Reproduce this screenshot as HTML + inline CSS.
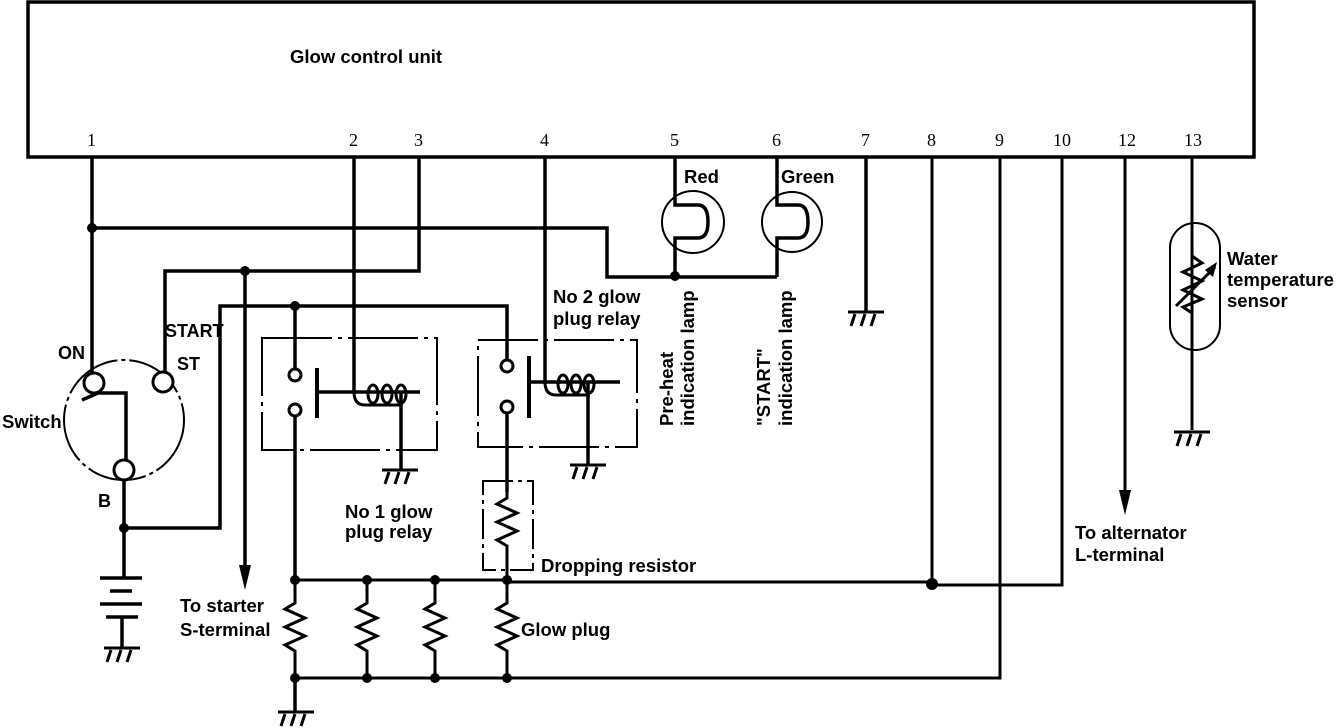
<!DOCTYPE html>
<html><head><meta charset="utf-8"><style>
html,body{margin:0;padding:0;background:#fff}
svg{display:block}
text{font-family:"Liberation Sans",sans-serif;font-weight:bold;font-size:18.5px;fill:#000}
.n{font-family:"Liberation Sans Narrow","Liberation Serif",serif;font-weight:normal;font-size:18px}
.b{font-family:"Liberation Sans Narrow","Liberation Sans",sans-serif;font-weight:bold;font-size:18px}
</style></head><body>
<svg width="1344" height="728" viewBox="0 0 1344 728" xmlns="http://www.w3.org/2000/svg">
<g fill="none" stroke="#000" stroke-width="3.5">
<rect x="28" y="2" width="1226" height="155"/>
<path d="M92 157V378"/>
<path d="M92 228H607V277H777"/>
<path d="M675 157V205H698Q708 205 708 222Q708 238 698 238H675V277"/>
<path d="M777 157V205H798Q808 205 808 222Q808 238 798 238H777V277"/>
<path d="M354 157V392"/>
<path d="M419 157V271H165V373"/>
<path d="M245 271V570"/>
<path d="M545 157V382"/>
<path d="M124 528H220V306H507V360"/>
<path d="M295 306V369"/>
<path d="M295 416V580"/>
<path d="M507 413V492"/>
<path d="M124 480V578"/>
<path d="M126 460V393H98L82 400"/>
<path d="M122 617V648"/>
<path d="M317 368V418" stroke-width="4"/>
<path d="M317 392H420"/>
<path d="M401 392V470"/>
<path d="M529 356V418" stroke-width="4"/>
<path d="M529 382H620"/>
<path d="M588 382V465"/>
<path d="M295 580H507M507 582H932" stroke-width="3"/>
<path d="M932 157V585H1062V157" stroke-width="3"/>
<path d="M295 678H1000V157" stroke-width="3"/>
<path d="M295 678V712"/>
<path d="M866 157V312"/>
<path d="M1125 157V495" stroke-width="3"/>
<path d="M1192 157V430" stroke-width="3"/>
</g>
<g fill="none" stroke="#000" stroke-width="2">
<circle cx="124" cy="420" r="60" stroke-dasharray="60 4 4 4"/>
<rect x="262" y="338" width="175" height="112" stroke-dasharray="70 6 4 6"/>
<rect x="478" y="340" width="159" height="107" stroke-dasharray="60 6 4 6"/>
<rect x="483" y="481" width="50" height="89" stroke-dasharray="30 5 4 5"/>
<circle cx="693" cy="222" r="31"/>
<circle cx="792" cy="222" r="30"/>
<rect x="1170" y="223" width="50" height="127" rx="25"/>
</g>
<g fill="#fff" stroke="#000" stroke-width="3">
<circle cx="94" cy="383" r="10"/><circle cx="163" cy="382" r="10"/><circle cx="124" cy="470" r="10"/>
<circle cx="295" cy="375" r="6"/><circle cx="295" cy="410" r="6"/>
<circle cx="507" cy="366" r="6"/><circle cx="507" cy="407" r="6"/>
</g>
<g fill="none" stroke="#000" stroke-width="3">
<path d="M354 392Q354 405 365 405H400"/>
<ellipse cx="373" cy="394" rx="5" ry="9"/><ellipse cx="387" cy="394" rx="5" ry="9"/><ellipse cx="401" cy="394" rx="5" ry="9"/>
<path d="M545 382Q545 395 556 395H590"/>
<ellipse cx="563" cy="384" rx="5" ry="9"/><ellipse cx="576" cy="384" rx="5" ry="9"/><ellipse cx="589" cy="384" rx="5" ry="9"/>
<path d="M507 492V498L497 504L517 513L497 522L517 531L497 540L507 546V580"/>
<path d="M295 580V603L285 609L305 618L285 627L305 636L285 645L295 651V678"/>
<path d="M367 580V603L357 609L377 618L357 627L377 636L357 645L367 651V678"/>
<path d="M435 580V603L425 609L445 618L425 627L445 636L425 645L435 651V678"/>
<path d="M507 580V603L497 609L517 618L497 627L517 636L497 645L507 651V678"/>
<path d="M1192 256L1202 263L1183 272L1202 281L1183 290L1202 299L1183 307L1192 313"/>
<path d="M1176 306L1215 267"/>
<path d="M100 578H142M110 591H132M100 604H142M106 617H138" stroke-width="3.5"/>
<path d="M104 648H140M111 650L107 662M121 650L117 662M131 650L127 662"/>
<path d="M278 712H314M285 714L281 726M295 714L291 726M305 714L301 726"/>
<path d="M382 470H418M389 472L385 484M399 472L395 484M409 472L405 484"/>
<path d="M570 465H606M577 467L573 479M587 467L583 479M597 467L593 479"/>
<path d="M848 312H884M855 314L851 326M865 314L861 326M875 314L871 326"/>
<path d="M1174 432H1210M1181 434L1177 446M1191 434L1187 446M1201 434L1197 446"/>
</g>
<path d="M1217 262L1205 270L1213 277Z" fill="#000"/>
<path d="M239 565H251L245 590Z M1119 490H1131L1125 515Z" fill="#000"/>
<g fill="#000">
<circle cx="92" cy="228" r="5"/><circle cx="245" cy="271" r="5"/><circle cx="295" cy="306" r="5"/>
<circle cx="124" cy="528" r="5"/><circle cx="675" cy="276" r="5"/><circle cx="932" cy="584" r="6"/>
<circle cx="295" cy="580" r="5"/><circle cx="367" cy="580" r="5"/><circle cx="435" cy="580" r="5"/><circle cx="507" cy="580" r="5"/>
<circle cx="295" cy="678" r="5"/><circle cx="367" cy="678" r="5"/><circle cx="435" cy="678" r="5"/><circle cx="507" cy="678" r="5"/>
</g>
<text x="290" y="63">Glow control unit</text>
<text class="n" x="87" y="146">1</text><text class="n" x="349" y="146">2</text><text class="n" x="414" y="146">3</text>
<text class="n" x="540" y="146">4</text><text class="n" x="670" y="146">5</text><text class="n" x="772" y="146">6</text>
<text class="n" x="861" y="146">7</text><text class="n" x="927" y="146">8</text><text class="n" x="995" y="146">9</text>
<text class="n" x="1053" y="146">10</text><text class="n" x="1118" y="146">12</text><text class="n" x="1184" y="146">13</text>
<text x="684" y="183">Red</text><text x="781" y="183">Green</text>
<text transform="translate(673,426) rotate(-90)">Pre-heat</text>
<text transform="translate(694,426) rotate(-90)">indication lamp</text>
<text transform="translate(770,426) rotate(-90)">"START"</text>
<text transform="translate(792,426) rotate(-90)">indication lamp</text>
<text x="553" y="303">No 2 glow</text><text x="553" y="325">plug relay</text>
<text x="345" y="518">No 1 glow</text><text x="345" y="538">plug relay</text>
<text x="541" y="572">Dropping resistor</text>
<text x="521" y="636">Glow plug</text>
<text x="180" y="612">To starter</text><text x="180" y="636">S-terminal</text>
<text x="1075" y="539">To alternator</text><text x="1075" y="561">L-terminal</text>
<text x="1227" y="265">Water</text><text x="1227" y="286">temperature</text><text x="1227" y="307">sensor</text>
<text x="2" y="428">Switch</text>
<text class="b" x="58" y="359">ON</text>
<text class="b" x="165" y="337">START</text>
<text class="b" x="177" y="370">ST</text>
<text class="b" x="98" y="507">B</text>
</svg>
</body></html>
